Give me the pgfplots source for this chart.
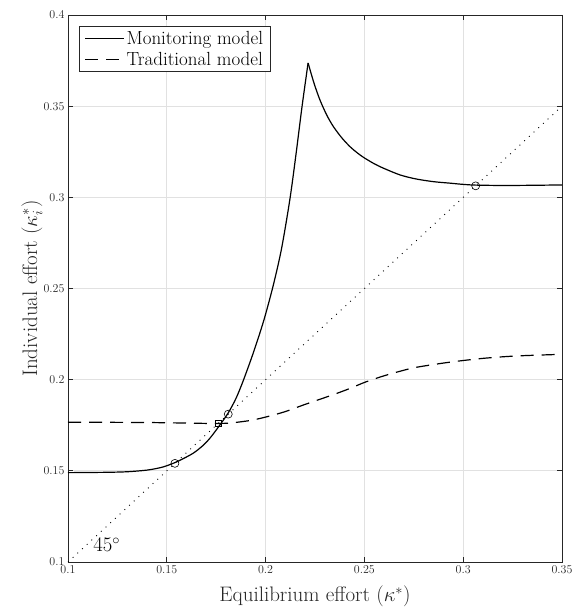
\documentclass[border=0pt]{standalone}
\usepackage{pgfplots}
\pgfplotsset{compat=1.18}
\definecolor{axgray}{RGB}{38,38,38}
\definecolor{gridgray}{RGB}{225,225,225}
\begin{document}
\begin{tikzpicture}
\begin{axis}[
  scale only axis,
  width=494pt, height=547pt,
  xmin=0.1, xmax=0.35, ymin=0.1, ymax=0.4,
  xtick={0.1,0.15,0.2,0.25,0.3,0.35},
  ytick={0.1,0.15,0.2,0.25,0.3,0.35,0.4},
  xticklabels={0.1,0.15,0.2,0.25,0.3,0.35},
  yticklabels={0.1,0.15,0.2,0.25,0.3,0.35,0.4},
  tick align=inside,
  major tick length=5pt,
  xtick pos=both, ytick pos=both,
  grid=major,
  major grid style={gridgray, line width=0.8pt},
  axis line style={axgray, line width=0.9pt},
  every tick/.style={axgray, line width=0.9pt},
  tick label style={font=\fontsize{12}{14}\selectfont, text=axgray},
  xlabel={Equilibrium effort ($\kappa^*$)},
  ylabel={Individual effort ($\kappa_i^*$)},
  label style={font=\fontsize{21}{25}\selectfont, text=axgray},
  xlabel style={at={(axis description cs:0.5,-0.073)}, anchor=base},
  ylabel style={at={(axis description cs:-0.073,0.5)}, anchor=center},
  legend style={at={(rel axis cs:0,1)}, anchor=north west, xshift=11pt, yshift=-11pt,
    draw=axgray, line width=0.9pt, font=\fontsize{19}{22}\selectfont,
    inner xsep=5pt, inner ysep=3pt, row sep=2pt},
  legend cell align=left,
  legend image code/.code={\draw[#1] (0pt,0pt) -- (39pt,0pt);},
]
\addplot[black, line width=1.2pt, smooth, tension=0.5] coordinates {
(0.100,0.1490) (0.110,0.1491) (0.120,0.1492) (0.130,0.1495) (0.140,0.1504)
(0.1466,0.1517) (0.150,0.1528) (0.1541,0.1545) (0.158,0.1565) (0.1634,0.1597)
(0.168,0.1636) (0.1719,0.1680) (0.1769,0.1752) (0.1811,0.1818) (0.185,0.1897)
(0.1887,0.1995) (0.1938,0.2148) (0.1990,0.2322) (0.2037,0.2510) (0.2080,0.2715)
(0.2123,0.2990) (0.2155,0.3246) (0.2184,0.3495) (0.2215,0.3737)
};
\addlegendentry{Monitoring model}
\addplot[black, line width=1.2pt, smooth, tension=0.5, forget plot] coordinates {
(0.2215,0.3737) (0.2245,0.3626) (0.2275,0.3534) (0.2310,0.3450) (0.2343,0.3388)
(0.2385,0.3327) (0.2427,0.3278) (0.2465,0.3243) (0.2500,0.3216) (0.2550,0.3184)
(0.2596,0.3160) (0.2680,0.3123) (0.2760,0.3101) (0.2849,0.3086) (0.2930,0.3078)
(0.3000,0.3071) (0.3063,0.3067) (0.3200,0.3065) (0.3350,0.3066) (0.3500,0.3068)
};
\addplot[black, line width=1.2pt, dash pattern=on 13pt off 8pt, smooth, tension=0.5] coordinates {
(0.100,0.1766) (0.120,0.1766) (0.140,0.1765) (0.160,0.1762) (0.170,0.1760)
(0.176,0.1760) (0.182,0.1762) (0.1921,0.1776) (0.1997,0.1794) (0.2100,0.1825)
(0.2191,0.1861) (0.2343,0.1918) (0.2427,0.1952) (0.2503,0.1986) (0.2596,0.2020)
(0.2680,0.2046) (0.2764,0.2068) (0.2933,0.2096) (0.3102,0.2117) (0.3270,0.2130)
(0.3500,0.2139)
};
\addlegendentry{Traditional model}
\addplot[black, line width=0.9pt, dash pattern=on 0.9pt off 5.5pt, forget plot] coordinates {
(0.1,0.1) (0.35,0.35)
};
\addplot[only marks, mark=o, mark size=4pt, black, line width=0.6pt, forget plot] coordinates {
(0.1541,0.1541) (0.1811,0.1811) (0.3063,0.3063)
};
\addplot[only marks, mark=square, mark size=3pt, black, line width=0.7pt, forget plot] coordinates {
(0.1761,0.1761)
};
\node[anchor=base west, inner sep=0pt, font=\fontsize{20}{24}\selectfont, text=black]
  at (axis cs:0.1127,0.1055) {$45^\circ$};
\end{axis}
\pgfresetboundingbox
\path ([shift={(-68pt,-46pt)}]current axis.south west) rectangle ([shift={(12pt,15pt)}]current axis.north east);
\end{tikzpicture}
\end{document}
